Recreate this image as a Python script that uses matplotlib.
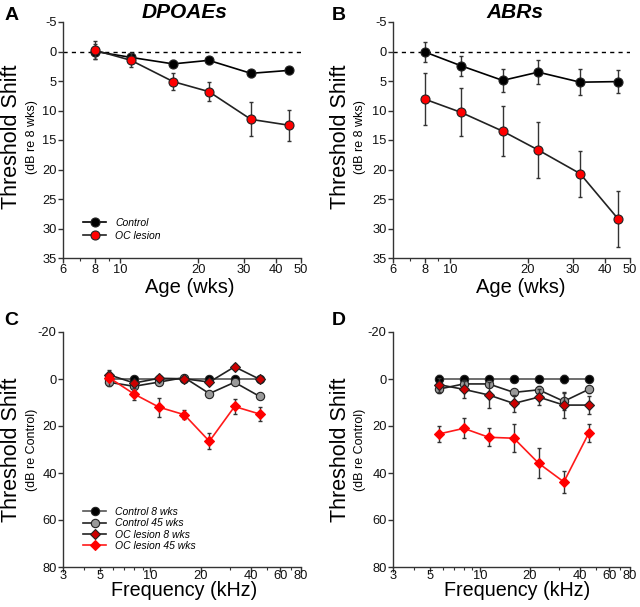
import matplotlib
matplotlib.use("Agg")
import matplotlib.pyplot as plt
from matplotlib.ticker import FixedLocator, NullFormatter, FixedFormatter
import numpy as np

plt.rcParams['font.family'] = ['Liberation Sans', 'DejaVu Sans']

# ---------------- data ----------------
ages = [8, 11, 16, 22, 32, 45]
# Panel A: DPOAE threshold shift re 8 wks
dp_ctrl = [0.0, 1.0, 2.1, 1.5, 3.7, 3.2]
dp_ctrl_err = [1.2, 0.6, 0.6, 0.6, 0.6, 0.6]
dp_oc = [-0.2, 1.5, 5.1, 6.8, 11.5, 12.5]
dp_oc_err = [1.5, 1.2, 1.5, 1.6, 2.9, 2.6]
# Panel B: ABR threshold shift re 8 wks
abr_ctrl = [0.1, 2.4, 4.9, 3.5, 5.2, 5.1]
abr_ctrl_err = [1.7, 1.7, 2.0, 2.0, 2.2, 1.9]
abr_oc = [8.1, 10.3, 13.5, 16.7, 20.7, 28.4]
abr_oc_err = [4.4, 4.1, 4.2, 4.8, 3.9, 4.7]

freqs = [5.66, 8.0, 11.3, 16.0, 22.6, 32.0, 45.2]
# Panel C: DPOAE threshold shift re control
c_ctrl8 = [0, 0, 0, 0, 0, 0, 0]
c_ctrl8_err = [0.8, 0.8, 0.8, 0.8, 0.8, 0.8, 0.8]
c_ctrl45 = [1.4, 3.1, 1.3, -0.6, 6.2, 1.4, 7.4]
c_ctrl45_err = [1.0, 1.0, 1.0, 1.0, 1.0, 1.0, 1.0]
c_oc8 = [-1.8, 1.7, -0.3, -0.1, 1.3, -5.2, 0.1]
c_oc8_err = [1.2, 1.0, 1.0, 1.0, 1.0, 1.0, 1.0]
c_oc45 = [-0.6, 6.4, 12.0, 15.2, 26.5, 11.7, 14.9]
c_oc45_err = [3.4, 2.6, 4.0, 2.0, 3.4, 3.0, 3.0]
# Panel D: ABR threshold shift re control
d_ctrl8 = [0, 0, 0, 0, 0, 0, 0]
d_ctrl8_err = [1.5, 1.0, 1.0, 1.2, 1.0, 1.5, 1.0]
d_ctrl45 = [4.3, 2.1, 2.1, 5.7, 4.6, 9.5, 4.4]
d_ctrl45_err = [1.5, 1.5, 1.5, 1.5, 1.5, 3.5, 1.5]
d_oc8 = [2.4, 4.4, 6.8, 10.4, 7.7, 11.1, 11.1]
d_oc8_err = [3.0, 3.5, 5.5, 3.5, 3.5, 5.4, 3.9]
d_oc45 = [23.4, 21.0, 24.8, 25.2, 35.9, 43.8, 23.0]
d_oc45_err = [3.3, 4.3, 3.9, 5.9, 6.4, 4.6, 3.8]

age_ticks = [6, 8, 10, 20, 30, 40, 50]
age_minor = [7, 9]
freq_ticks = [3, 5, 10, 20, 40, 60, 80]
freq_minor = [4, 6, 7, 8, 9, 30, 50, 70]

W, H = 640, 607
fig = plt.figure(figsize=(6.4, 6.07), dpi=100)

def ax_at(x0, y0, x1, y1):
    return fig.add_axes([x0 / W, 1 - y1 / H, (x1 - x0) / W, (y1 - y0) / H])

def style(ax, xlim, xt, xm, ylim, yt, xpad):
    ax.set_xscale('log')
    ax.set_xlim(*xlim)
    ax.set_ylim(ylim[1], ylim[0])
    ax.xaxis.set_major_locator(FixedLocator(xt))
    ax.xaxis.set_major_formatter(FixedFormatter([str(t) for t in xt]))
    ax.xaxis.set_minor_locator(FixedLocator(xm))
    ax.xaxis.set_minor_formatter(NullFormatter())
    ax.set_yticks(yt)
    ax.set_yticklabels([str(t) for t in yt])
    for s in ['top', 'right']:
        ax.spines[s].set_visible(False)
    for s in ['left', 'bottom']:
        ax.spines[s].set_color('#333333')
        ax.spines[s].set_linewidth(1.0)
    ax.tick_params(axis='both', which='major', direction='out', length=3.5,
                   width=1.0, color='#333333', labelsize=9.3, pad=1.0,
                   labelcolor='#111111')
    ax.tick_params(axis='x', which='major', pad=xpad)
    ax.tick_params(axis='x', which='minor', direction='out', length=2.2,
                   width=0.8, color='#333333')
    ax.patch.set_alpha(0)

def series(ax, x, y, e, mfc, lc, marker, ms, label, z):
    ax.errorbar(x, y, yerr=e, fmt='none', ecolor='#333333', elinewidth=1.0,
                capsize=1.5, capthick=1.0, zorder=z)
    ln, = ax.plot(x, y, color=lc, lw=1.2, marker=marker, ms=ms, mfc=mfc,
                  mec='#222222', mew=0.8, label=label, zorder=z + 0.5)
    return ln

# Panel A
axA = ax_at(63, 22, 301, 258)
style(axA, (6, 50), age_ticks, age_minor, (-5, 35), list(range(-5, 40, 5)), 0.8)
axA.axhline(0, color='black', lw=1.0, ls=(0, (3, 3)), zorder=1)
hA1 = series(axA, ages, dp_ctrl, dp_ctrl_err, 'black', 'black', 'o', 6.5, 'Control', 3)
hA2 = series(axA, ages, dp_oc, dp_oc_err, '#ff0000', '#222222', 'o', 6.5, 'OC lesion', 4)
axA.legend(handles=[hA1, hA2], loc='upper left', bbox_to_anchor=(0.045, 0.21),
           frameon=False, prop={'style': 'italic', 'size': 7.5},
           handlelength=2.2, labelspacing=0.3, handletextpad=0.9)

# Panel B
axB = ax_at(393, 22, 630, 258)
style(axB, (6, 50), age_ticks, age_minor, (-5, 35), list(range(-5, 40, 5)), 0.8)
axB.axhline(0, color='black', lw=1.0, ls=(0, (3, 3)), zorder=1)
series(axB, ages, abr_ctrl, abr_ctrl_err, 'black', 'black', 'o', 6.5, 'Control', 3)
series(axB, ages, abr_oc, abr_oc_err, '#ff0000', '#222222', 'o', 6.5, 'OC lesion', 4)

def freq_panel(ax, c8, c8e, c45, c45e, o8, o8e, o45, o45e, legend=False):
    style(ax, (3, 80), freq_ticks, freq_minor, (-20, 80),
          list(range(-20, 100, 20)), -1.2)
    h1 = series(ax, freqs, c8, c8e, 'black', '#555555', 'o', 6, 'Control 8 wks', 3)
    h2 = series(ax, freqs, c45, c45e, '#999999', '#222222', 'o', 6, 'Control 45 wks', 4)
    h3 = series(ax, freqs, o8, o8e, '#cc0000', '#222222', 'D', 5, 'OC lesion 8 wks', 5)
    ax.errorbar(freqs, o45, yerr=o45e, fmt='none', ecolor='#333333', elinewidth=1.0,
                capsize=1.5, capthick=1.0, zorder=6)
    h4, = ax.plot(freqs, o45, color='#ff1a1a', lw=1.2, marker='D', ms=5,
                  mfc='#ff0000', mec='#ff0000', mew=0.8, label='OC lesion 45 wks',
                  zorder=6.5)
    if legend:
        ax.legend(handles=[h1, h2, h3, h4], loc='upper left',
                  bbox_to_anchor=(0.045, 0.295), frameon=False,
                  prop={'style': 'italic', 'size': 7.5}, handlelength=2.2,
                  labelspacing=0.12, handletextpad=0.9)

axC = ax_at(63, 332, 301, 567)
freq_panel(axC, c_ctrl8, c_ctrl8_err, c_ctrl45, c_ctrl45_err, c_oc8, c_oc8_err,
           c_oc45, c_oc45_err, legend=True)
axD = ax_at(393, 332, 630, 567)
freq_panel(axD, d_ctrl8, d_ctrl8_err, d_ctrl45, d_ctrl45_err, d_oc8, d_oc8_err,
           d_oc45, d_oc45_err)

def ftext(x, y, s, **kw):
    fig.text(x / W, 1 - y / H, s, ha='center', va='center', **kw)

# Titles and panel letters
ftext(185, 12, 'DPOAEs', fontsize=15, fontweight='bold', style='italic')
ftext(515, 12, 'ABRs', fontsize=15, fontweight='bold', style='italic')
for lx, ly, s in [(12, 15, 'A'), (339, 15, 'B'), (11, 321, 'C'), (339, 321, 'D')]:
    ftext(lx, ly, s, fontsize=14, fontweight='bold')

# Axis labels
for xo, yc, sub in [(12, 137, '(dB re 8 wks)'), (340, 137, '(dB re 8 wks)'),
                    (12, 450, '(dB re Control)'), (340, 450, '(dB re Control)')]:
    ftext(xo, yc, 'Threshold Shift', fontsize=15.5, rotation=90)
    ftext(xo + 20, yc, sub, fontsize=9, rotation=90)
ftext(190, 287.5, 'Age (wks)', fontsize=14.5)
ftext(521, 287.5, 'Age (wks)', fontsize=14.5)
ftext(184.5, 591, 'Frequency (kHz)', fontsize=14.2)
ftext(517, 591, 'Frequency (kHz)', fontsize=14.2)

fig.savefig('out.png', dpi=100)
